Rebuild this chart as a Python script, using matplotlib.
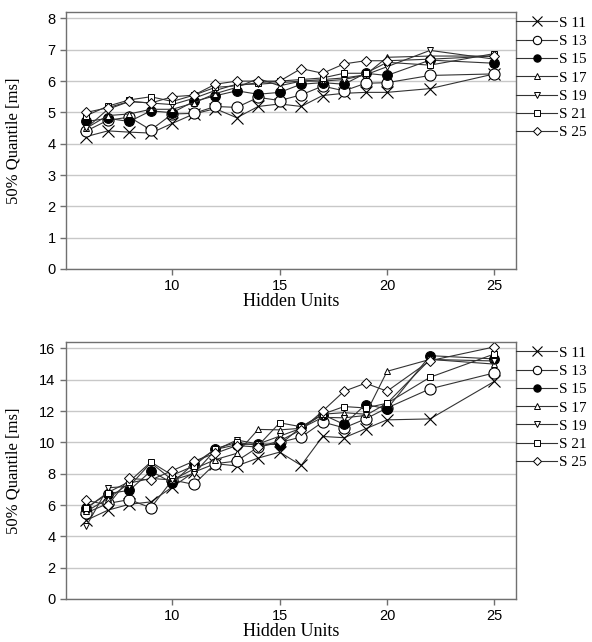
import numpy as np
import matplotlib.pyplot as plt

hidden_units = [6, 7, 8, 9, 10, 11, 12, 13, 14, 15, 16, 17, 18, 19, 20, 22, 25]
series_names = ['S 11', 'S 13', 'S 15', 'S 17', 'S 19', 'S 21', 'S 25']

# upper panel
top_s11 = [4.23, 4.41, 4.37, 4.34, 4.65, 4.95, 5.12, 4.83, 5.19, 5.27, 5.19, 5.54, 5.61, 5.64, 5.64, 5.76, 6.23]
top_s13 = [4.41, 4.75, 4.85, 4.44, 4.95, 4.97, 5.19, 5.16, 5.48, 5.38, 5.56, 5.84, 5.69, 5.93, 5.95, 6.18, 6.23]
top_s15 = [4.71, 4.81, 4.71, 5.05, 4.99, 5.35, 5.53, 5.69, 5.58, 5.64, 5.90, 5.95, 5.90, 6.25, 6.18, 6.67, 6.57]
top_s17 = [4.50, 4.90, 4.95, 5.10, 5.10, 5.30, 5.60, 5.80, 6.08, 5.85, 6.00, 6.05, 6.10, 6.20, 6.76, 6.80, 6.80]
top_s19 = [4.50, 5.10, 5.35, 5.30, 5.25, 5.45, 5.70, 5.90, 5.90, 5.95, 6.00, 6.00, 6.05, 6.20, 6.46, 6.98, 6.70]
top_s21 = [4.90, 5.20, 5.40, 5.50, 5.35, 5.55, 5.80, 5.85, 5.95, 6.00, 6.05, 6.10, 6.25, 6.25, 6.60, 6.51, 6.88]
top_s25 = [5.00, 5.15, 5.35, 5.30, 5.50, 5.55, 5.90, 6.00, 6.00, 6.00, 6.40, 6.25, 6.55, 6.65, 6.65, 6.70, 6.80]

# lower panel
bot_s11 = [5.03, 5.67, 6.05, 6.20, 7.15, 8.10, 8.64, 8.50, 9.00, 9.38, 8.53, 10.38, 10.30, 10.87, 11.44, 11.50, 13.90]
bot_s13 = [5.50, 6.10, 6.35, 5.82, 7.60, 7.32, 8.64, 8.81, 9.70, 10.00, 10.34, 11.30, 10.93, 11.50, 12.20, 13.42, 14.44]
bot_s15 = [5.82, 6.73, 6.94, 8.17, 7.41, 8.64, 9.55, 9.85, 9.92, 9.85, 10.98, 11.78, 11.15, 12.42, 12.14, 15.54, 15.33]
bot_s17 = [5.60, 6.40, 7.40, 7.70, 7.60, 8.30, 8.90, 9.30, 10.83, 10.80, 10.90, 11.80, 11.90, 11.80, 14.54, 15.30, 15.00]
bot_s19 = [4.67, 7.10, 7.20, 8.70, 7.60, 8.00, 9.50, 10.15, 9.90, 10.40, 10.90, 11.60, 11.57, 11.72, 12.50, 15.30, 15.20]
bot_s21 = [5.80, 6.80, 7.50, 8.75, 7.90, 8.50, 9.60, 10.00, 9.80, 11.25, 11.00, 11.80, 12.29, 12.20, 12.50, 14.16, 15.65]
bot_s25 = [6.30, 6.00, 7.70, 7.60, 8.20, 8.80, 9.30, 9.80, 9.70, 10.10, 10.80, 12.00, 13.27, 13.78, 13.27, 15.22, 16.10]

top_data = [top_s11, top_s13, top_s15, top_s17, top_s19, top_s21, top_s25]
bot_data = [bot_s11, bot_s13, bot_s15, bot_s17, bot_s19, bot_s21, bot_s25]

marker_styles = [
    dict(marker='x', markersize=9, markerfacecolor='none', markeredgewidth=0.8),
    dict(marker='o', markersize=8, markerfacecolor='white', markeredgewidth=0.8),
    dict(marker='o', markersize=7, markerfacecolor='black', markeredgewidth=0.8),
    dict(marker='^', markersize=5, markerfacecolor='white', markeredgewidth=0.7),
    dict(marker='v', markersize=5, markerfacecolor='white', markeredgewidth=0.7),
    dict(marker='s', markersize=5, markerfacecolor='white', markeredgewidth=0.7),
    dict(marker='D', markersize=5, markerfacecolor='white', markeredgewidth=0.7),
]

serif = ['Liberation Serif', 'DejaVu Serif']
sans = ['Liberation Sans', 'DejaVu Sans']

fig = plt.figure(figsize=(5.92, 6.42), dpi=100)
ax_top = fig.add_axes([0.1115, 0.581, 0.76, 0.400])
ax_bot = fig.add_axes([0.1115, 0.067, 0.76, 0.400])


def draw_panel(ax, data, ymax, yticks):
    for name, vals, ms in zip(series_names, data, marker_styles):
        ax.plot(hidden_units, vals, color='#333333', linewidth=0.8,
                markeredgecolor='black', label=name, **ms)
    ax.set_xlim(5.05, 26)
    ax.set_ylim(0, ymax)
    ax.set_xticks([10, 15, 20, 25])
    ax.set_yticks(yticks)
    ax.yaxis.grid(True, color='#c8c8c8', linewidth=1.0)
    ax.set_axisbelow(True)
    for side in ax.spines.values():
        side.set_color('#707070')
        side.set_linewidth(1.0)
    ax.tick_params(colors='#707070', labelcolor='black', length=4, width=1.0)
    for lbl in ax.get_xticklabels() + ax.get_yticklabels():
        lbl.set_family(sans)
        lbl.set_fontsize(10.5)
    ax.set_xlabel('Hidden Units', family=serif, fontsize=13, labelpad=0)
    ax.set_ylabel('50% Quantile [ms]', family=serif, fontsize=12)
    ax.yaxis.set_label_coords(-0.098, 0.5)
    ax.legend(loc='upper left', bbox_to_anchor=(1.0, 0.985), frameon=False,
              borderaxespad=0, borderpad=0, handlelength=2.7, handletextpad=0.1,
              labelspacing=0.3, markerscale=0.75,
              prop={'family': serif, 'size': 11})


draw_panel(ax_top, top_data, 8.2, range(0, 9))
draw_panel(ax_bot, bot_data, 16.4, range(0, 17, 2))

fig.savefig('out.png', dpi=100)
